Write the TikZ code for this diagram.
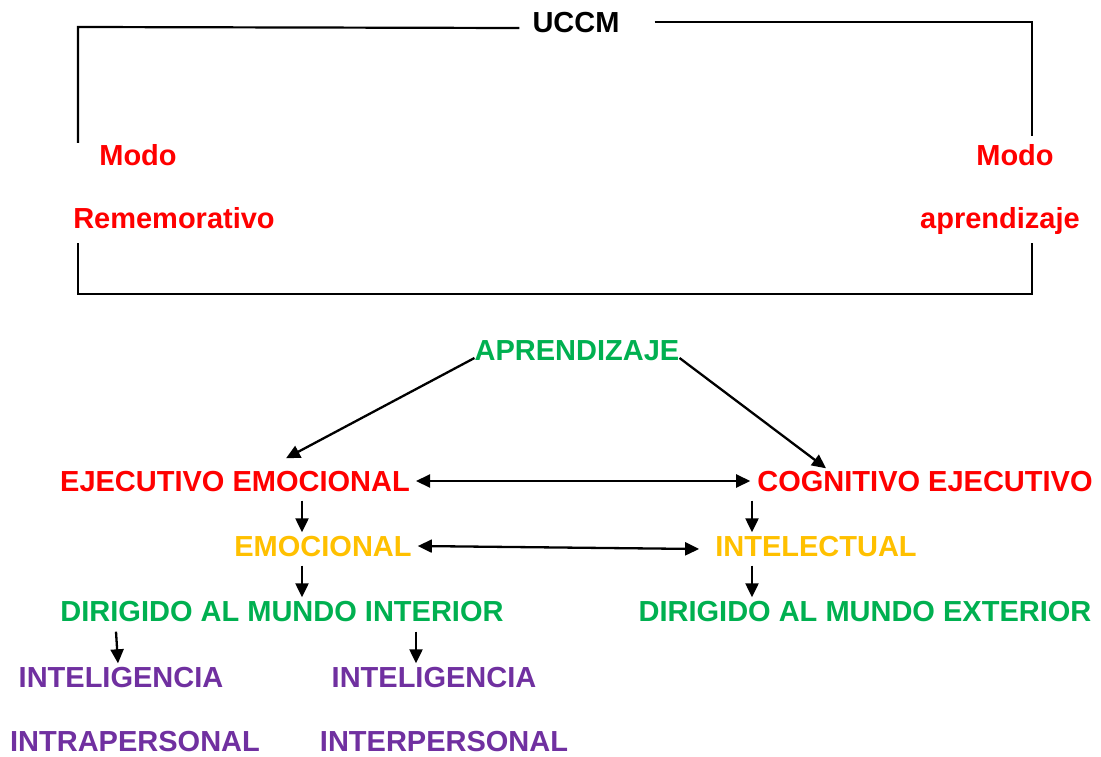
\documentclass[tikz,border=0pt]{standalone}
\usepackage{fontspec}
\setmainfont{Liberation Sans}
\usepackage{tikz}
\usetikzlibrary{arrows.meta}
\definecolor{rojo}{HTML}{FF0000}
\definecolor{verde}{HTML}{00B050}
\definecolor{oro}{HTML}{FFC000}
\definecolor{morado}{HTML}{7030A0}
\tikzset{
  lbl/.style={inner sep=0pt, text height=21pt, text depth=0pt, font=\fontsize{29}{34}\selectfont\bfseries},
  arr/.style={-{Triangle[length=14pt,width=13pt]}, line width=2.3pt, draw=black},
  dbl/.style={{Triangle[length=14pt,width=13pt]}-{Triangle[length=14pt,width=13pt]}, line width=2.3pt, draw=black},
  brk/.style={line width=2.2pt, draw=black}
}
\begin{document}
\begin{tikzpicture}[x=1pt, y=-1pt]
  \useasboundingbox (0,0) rectangle (1101,757);

  % bracket around the two modes
  \node[lbl] (uccm) at (576,22) {UCCM};
  \node[lbl, text=rojo] (modoL) at (138,155) {Modo};
  \node[lbl, text=rojo] (remem) at (174,218) {Rememorativo};
  \node[lbl, text=rojo] (modoR) at (1015,155) {Modo};
  \node[lbl, text=rojo] (aprend) at (1000,218) {aprendizaje};

  \coordinate (tl) at (78,27);
  \coordinate (tr) at (1032,22);
  \coordinate (ml) at (78,143);
  \coordinate (mr) at (1032,136);
  \coordinate (bl1) at (78,243);
  \coordinate (br1) at (1032,243);
  \coordinate (bl) at (78,294);
  \coordinate (br) at (1032,294);

  \draw[brk] (ml) -- (tl) -- ([xshift=-13pt,yshift=-6pt]uccm.west);
  \draw[brk] ([xshift=35pt]uccm.east) -- (tr) -- (mr);
  \draw[brk] (bl1) -- (bl) -- (br) -- (br1);

  % levels
  \node[lbl, text=verde] (apr) at (577,350) {APRENDIZAJE};

  \node[lbl, text=rojo] (ejem) at (235,481) {EJECUTIVO EMOCIONAL};
  \node[lbl, text=rojo] (coge) at (925,481) {COGNITIVO EJECUTIVO};

  \node[lbl, text=oro] (emoc) at (323,546) {EMOCIONAL};
  \node[lbl, text=oro] (intel) at (816,546) {INTELECTUAL};

  \node[lbl, text=verde] (dirint) at (282,611) {DIRIGIDO AL MUNDO INTERIOR};
  \node[lbl, text=verde] (dirext) at (865,611) {DIRIGIDO AL MUNDO EXTERIOR};

  \node[lbl, text=morado] (int1) at (121,677) {INTELIGENCIA};
  \node[lbl, text=morado] (intra) at (135,741) {INTRAPERSONAL};
  \node[lbl, text=morado] (int2) at (434,677) {INTELIGENCIA};
  \node[lbl, text=morado] (inter) at (444,741) {INTERPERSONAL};

  % arrows
  \draw[arr] ([yshift=-8pt]apr.west) -- ([xshift=51pt,yshift=12pt]ejem.north);
  \draw[arr] ([yshift=-8pt]apr.east) -- ([xshift=-99pt,yshift=2pt]coge.north);
  \draw[dbl] ([xshift=6pt]ejem.east) -- ([xshift=-7pt]coge.west);
  \draw[dbl] ([xshift=6pt]emoc.east) -- ([xshift=-16pt,yshift=-3pt]intel.west);

  \draw[arr] ([xshift=67pt,yshift=-9pt]ejem.south) -- ([xshift=-21pt,yshift=3pt]emoc.north);
  \draw[arr] ([xshift=-173pt,yshift=-9pt]coge.south) -- ([xshift=-64pt,yshift=3pt]intel.north);
  \draw[arr] ([xshift=-21pt,yshift=-9pt]emoc.south) -- ([xshift=20pt,yshift=3pt]dirint.north);
  \draw[arr] ([xshift=-64pt,yshift=-9pt]intel.south) -- ([xshift=-113pt,yshift=3pt]dirext.north);
  \draw[arr] ([xshift=-166pt,yshift=-10pt]dirint.south) -- ([xshift=-3pt,yshift=3pt]int1.north);
  \draw[arr] ([xshift=134pt,yshift=-10pt]dirint.south) -- ([xshift=-18pt,yshift=3pt]int2.north);
\end{tikzpicture}
\end{document}
